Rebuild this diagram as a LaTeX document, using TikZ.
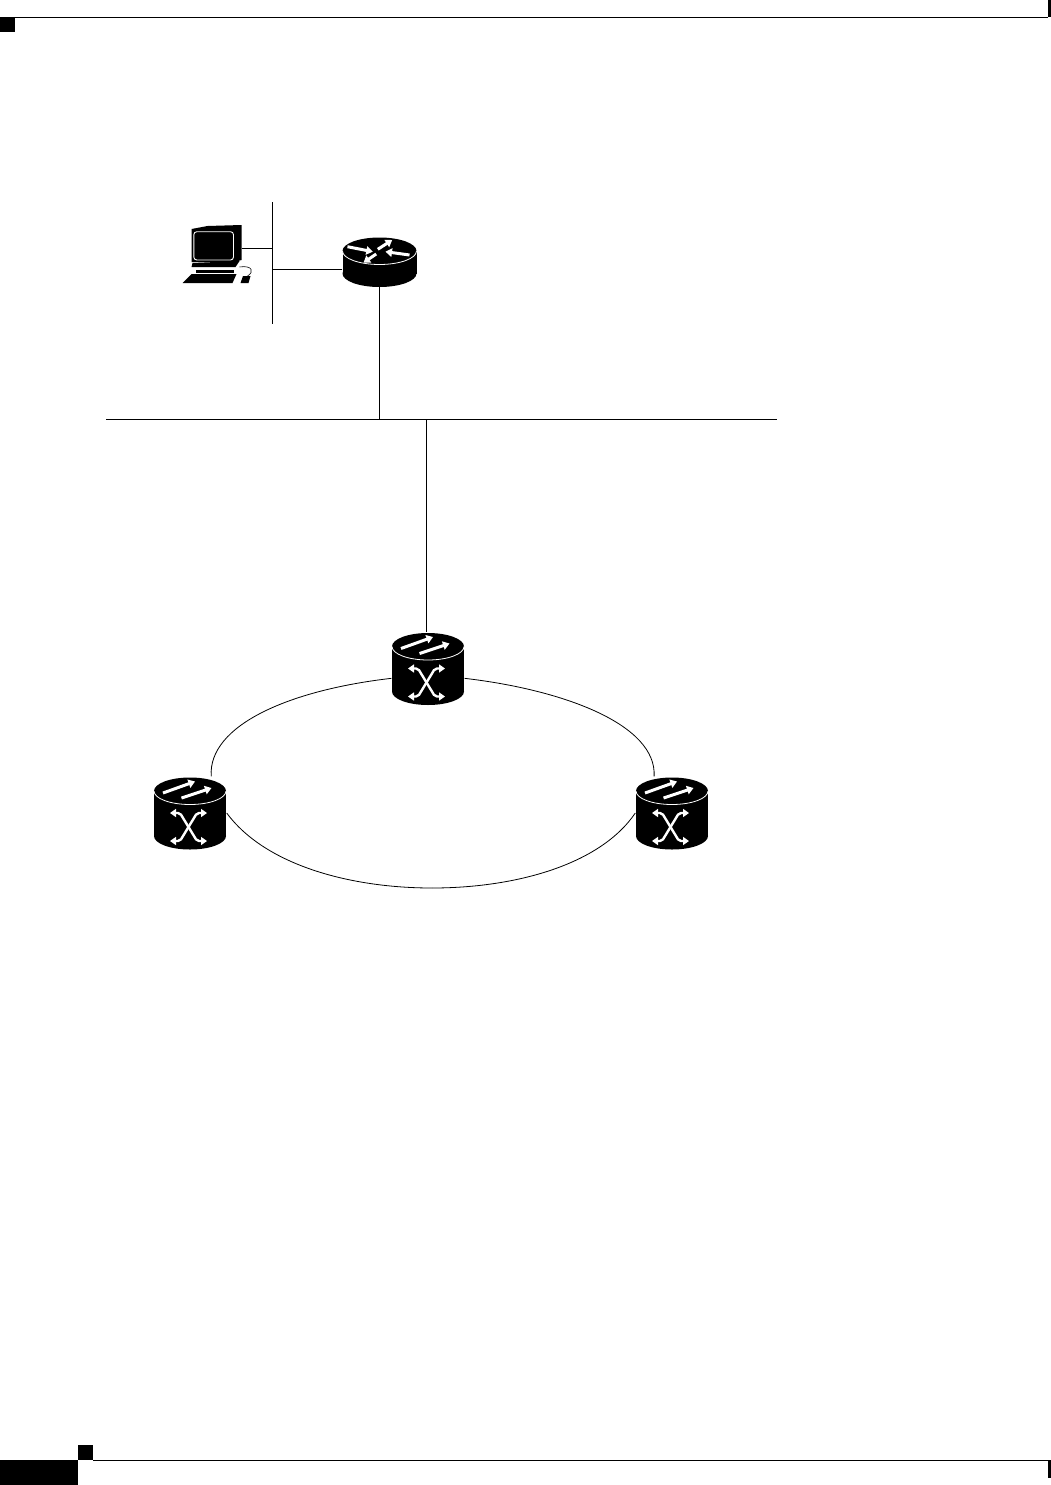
\documentclass[tikz,border=0pt]{standalone}
\usetikzlibrary{arrows.meta}
\tikzset{
	device/.style={inner sep=0pt,minimum width=73pt,minimum height=73pt},
	link/.style={line width=.8pt},
	glyph/.style={draw=white,line width=3pt,-{Triangle[width=8.5pt,length=6.5pt]}},
	crossglyph/.style={draw=white,line width=2.4pt,{Triangle[width=8pt,length=6pt]}-{Triangle[width=8pt,length=6pt]}},
}
\newcommand{\drumbody}[3]{%
	\fill (-#1,#2) rectangle (#1,#3);
	\fill (0,#2) ellipse [x radius=#1pt,y radius=13.5pt];
	\fill (0,#3) ellipse [x radius=#1pt,y radius=13.5pt];
	\draw[white,line width=.8pt] (-#1,#2) arc [start angle=180,end angle=360,x radius=#1pt,y radius=13.5pt];
}
\newcommand{\switchicon}[1]{%
	\begin{scope}[shift={(#1.center)}]
	\drumbody{36}{-22}{23}
	\draw[glyph] (-27,-20)--(5,-31.5);
	\draw[glyph] (-8.5,-15)--(21.5,-25);
	\draw[crossglyph,rounded corners=2pt] (-20,0)--(-10,0)--(7,28)--(17,28);
	\draw[crossglyph,rounded corners=2pt] (-20,28)--(-10,28)--(7,0)--(17,0);
	\end{scope}
}
\begin{document}
\begin{tikzpicture}[x=1pt,y=-1pt]
	\useasboundingbox (0,0) rectangle (1051,1485);
	\fill (0,17) rectangle (15,32);
	\fill (1048,0) rectangle (1051,17);
	\draw[link] (15,17)--(1048,17);
	\fill (0,1460) rectangle (78,1485);
	\fill (78,1445) rectangle (93,1460);
	\fill (1048,1460) rectangle (1051,1478);
	\draw[link] (93,1460)--(1048,1460);

	\node[inner sep=0pt,minimum width=50pt,minimum height=50pt] (pc) at (216.5,248){};
	\node[device,minimum width=74pt,minimum height=49pt] (router) at (379.5,262.5){};
	\node[device] (swtop) at (428,668.5){};
	\node[device] (swleft) at (190,813){};
	\node[device] (swright) at (672,813){};

	\coordinate (bustop) at (272.5,202);
	\coordinate (busbot) at (272.5,324);
	\coordinate (lanleft) at (106,419);
	\coordinate (lanright) at (777,419);
	\coordinate (ringbot) at (432,888);

	\draw[link] (bustop)--(busbot);
	\draw[link] (pc.east)--(pc.east -| bustop);
	\draw[link] (router.west)++(0,6.5) -- (272.5,269);
	\draw[link] (lanleft)--(lanright);
	\draw[link] (router.south)--(router.south |- lanleft);
	\draw[link] (swtop.north -| 426.5,0)--(426.5,419);

	\draw[link] (swtop.195) .. controls (290,690) and (208,725) .. (swleft.60);
	\draw[link] (swtop.345) .. controls (565,690) and (657,725) .. (swright.116);
	\draw[link] (swleft.east) .. controls (265,865) and (350,888) .. (ringbot);
	\draw[link] (ringbot) .. controls (515,888) and (600,865) .. (swright.west);

	\begin{scope}[shift={(pc.center)}]
	\fill (-25,-19)--(-9,-22)--(25,-23)--(25,12)--(18,14)--(-25,14)--cycle;
	\draw[white,line width=.9pt,rounded corners=3pt] (-22.7,-16.3) rectangle (17,12);
	\fill (-24,15)--(23,13)--(19,19)--(-25,19)--cycle;
	\fill (-21,22) rectangle (17,25);
	\fill (-34,35)--(-25,26)--(20,26)--(16,35)--cycle;
	\fill (24,35)--(26.5,28)--(34,28)--(32,35)--cycle;
	\draw[line width=.6pt] (23,19) .. controls (36,17) and (38,24) .. (31,28);
	\end{scope}

	\begin{scope}[shift={(router.center)}]
	\drumbody{37}{-11.5}{11}
	\draw[glyph] (-32,-15.8)--(-6.7,-10.8);
	\draw[glyph] (-1.7,-13.2)--(12.7,-22.5);
	\draw[glyph] (30,-7.5)--(6,-10.8);
	\draw[glyph] (-3.3,-8.5)--(-16,0.2);
	\end{scope}

	\switchicon{swtop}
	\switchicon{swleft}
	\switchicon{swright}
\end{tikzpicture}
\end{document}
